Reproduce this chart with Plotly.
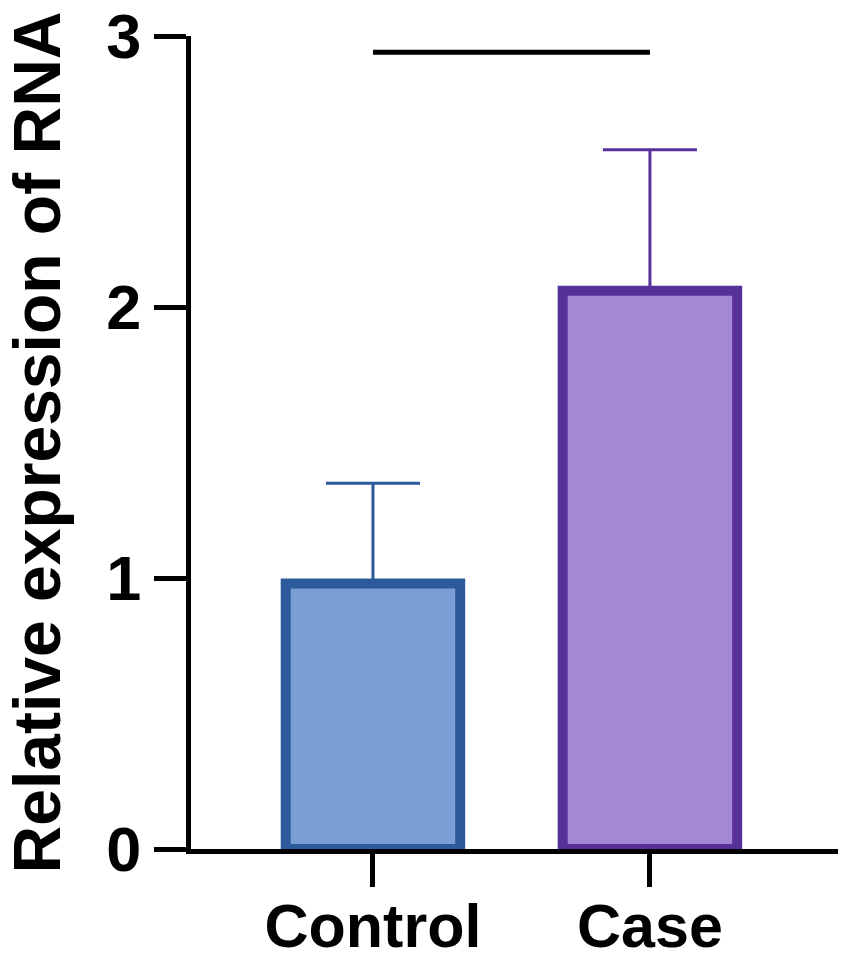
import plotly.graph_objects as go

categories = ["Control", "Case"]
means = [0.98, 2.06]
errors = [0.37, 0.52]
fill_colors = ["#7A9FD4", "#A388D2"]
edge_colors = ["#2D5A9C", "#58309A"]
sig_y = 2.94
y_ticks = [0, 1, 2, 3]

FONT = "Liberation Sans, Arial, Helvetica, sans-serif"

fig = go.Figure()
for cat, m, e, fc, ec in zip(categories, means, errors, fill_colors, edge_colors):
    fig.add_trace(go.Bar(
        x=[cat], y=[m],
        width=0.63,
        marker=dict(color=fc, line=dict(color=ec, width=10)),
        error_y=dict(type="data", array=[e], symmetric=False, arrayminus=[0],
                     color=ec, thickness=3, width=47),
        showlegend=False,
    ))

fig.add_trace(go.Scatter(
    x=categories, y=[sig_y, sig_y], mode="lines",
    line=dict(color="black", width=5), showlegend=False, cliponaxis=False,
))

fig.update_layout(
    width=850, height=963,
    margin=dict(l=191, r=12, t=36, b=114),
    plot_bgcolor="white", paper_bgcolor="white",
    font=dict(family=FONT, color="black"),
    bargap=0.3,
)
fig.update_xaxes(
    type="category", range=[-0.657, 1.679], automargin=False,
    showline=True, linecolor="black", linewidth=5,
    ticks="outside", ticklen=33, tickwidth=5, tickcolor="black",
    tickfont=dict(size=61, family=FONT, weight="bold"),
    ticklabeloverflow="allow", ticklabelstandoff=-13,
    showgrid=False, zeroline=False,
)
fig.update_yaxes(
    range=[0, 3], tickvals=y_ticks, automargin=False,
    showline=True, linecolor="black", linewidth=5,
    ticks="outside", ticklen=32, tickwidth=5, tickcolor="black",
    tickfont=dict(size=63, family=FONT, weight="bold"),
    ticklabeloverflow="allow",
    showgrid=False, zeroline=False,
    title=dict(text="Relative expression of RNA", font=dict(size=66, family=FONT, weight="bold"), standoff=40),
)

fig.write_html(
    "out.html",
    config={"displayModeBar": False},
    post_script="document.body.style.margin='0px';document.body.style.overflow='hidden';",
)
